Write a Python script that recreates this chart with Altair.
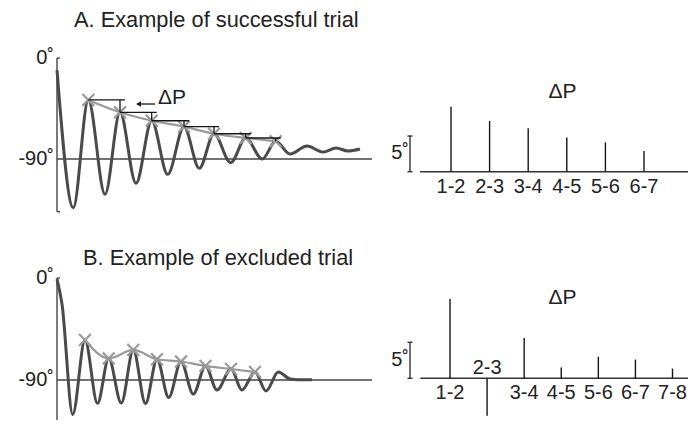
import altair as alt
import pandas as pd

# ---------------- data ----------------
# Panel A: successful trial, joint angle trace (time in s, angle in degrees)
a_time = [0.00, 0.163, 0.313, 0.48, 0.63, 0.79, 0.947, 1.107, 1.27, 1.423, 1.57,
          1.737, 1.887, 2.053, 2.187, 2.33, 2.50, 2.66, 2.79, 2.91, 3.03]
a_angle = [-10.7, -133.4, -37.4, -121.5, -48.4, -111.7, -55.9, -103.7, -61.2, -98.3, -67.5,
           -93.3, -71.3, -90.0, -74.2, -85.6, -78.4, -83.8, -80.2, -82.9, -81.1]
a_peak_time = [0.313, 0.63, 0.947, 1.27, 1.57, 1.887, 2.187]
a_peak_angle = [-37.4, -48.4, -55.9, -61.2, -67.5, -71.3, -74.2]
a_pairs = ["1-2", "2-3", "3-4", "4-5", "5-6", "6-7"]
a_dp = [9.1, 7.1, 6.1, 4.8, 4.1, 2.9]

# Panel B: excluded trial
b_time = [0.00, 0.05, 0.157, 0.28, 0.405, 0.517, 0.643, 0.763, 0.885, 1.00, 1.117,
          1.24, 1.363, 1.485, 1.60, 1.74, 1.85, 1.98, 2.09, 2.213, 2.33, 2.41, 2.55]
b_angle = [-1.0, -22.9, -120.4, -54.7, -110.6, -70.9, -110.3, -63.5, -110.7, -71.7, -105.4,
           -73.7, -102.4, -77.6, -98.8, -80.3, -98.8, -82.9, -99.7, -82.9, -89.1, -89.8, -89.8]
b_peak_time = [0.28, 0.517, 0.763, 1.00, 1.24, 1.485, 1.74, 1.98]
b_peak_angle = [-54.7, -70.9, -63.5, -71.7, -73.7, -77.6, -80.3, -82.9]
b_pairs = ["1-2", "2-3", "3-4", "4-5", "5-6", "6-7", "7-8"]
b_dp = [11.0, -5.2, 5.6, 1.5, 3.0, 2.6, 1.35]

tick_values = [0, -90]
tick_labels = ["0˚", "-90˚"]

# ---------------- style ----------------
FONT = "Liberation Sans"
TEXT = "#222222"
WAVE = "#4a4a4a"
GRAY = "#9a9a9a"
INK = "#151515"
AXIS = "#444444"
XPATH = "M-1,-1L1,1M-1,1L1,-1"


def df(**cols):
    return pd.DataFrame({k: (v if isinstance(v, list) else [v]) for k, v in cols.items()})


def label(text, x, y, size, align="left", baseline="alphabetic"):
    return alt.Chart(df(s=text)).mark_text(
        align=align, baseline=baseline, fontSize=size, color=TEXT, font=FONT
    ).encode(x=alt.value(x), y=alt.value(y), text="s:N")


def trace_panel(t, a, pt, pa, title, tx, ty, yrange, height, brackets, open_bottom):
    xs = alt.Scale(domain=[0, 3], range=[49, 349], nice=False, zero=False, padding=0)
    ys = alt.Scale(domain=[0, -90], range=yrange, nice=False, zero=False, padding=0)

    def X(f):
        return alt.X(f, type="quantitative", scale=xs, axis=None)

    def Y(f):
        return alt.Y(f, type="quantitative", scale=ys, axis=None)

    wave = pd.DataFrame({"t": t, "a": a})
    peaks = pd.DataFrame({"t": pt, "a": pa})
    ticks = pd.DataFrame({"t": [0, 0], "a": tick_values, "label": tick_labels})
    cap_vals = [0] if open_bottom else [0, -137]
    caps = pd.DataFrame({"t": [0] * len(cap_vals), "t2": [0.03] * len(cap_vals), "a": cap_vals})

    layers = [
        alt.Chart(df(t=0, a=0, a2=-137)).mark_rule(color=AXIS, strokeWidth=1.4, clip=True).encode(
            x=X("t"), y=Y("a"), y2="a2:Q"),
        alt.Chart(caps).mark_rule(color=AXIS, strokeWidth=1.4).encode(
            x=X("t"), x2="t2:Q", y=Y("a")),
        alt.Chart(df(t=0, t2=3.15, a=-90)).mark_rule(color=AXIS, strokeWidth=1.4).encode(
            x=X("t"), x2="t2:Q", y=Y("a")),
        alt.Chart(ticks).mark_text(align="right", baseline="middle", dx=-3,
                                   fontSize=20, color=TEXT, font=FONT).encode(
            x=X("t"), y=Y("a"), text="label:N"),
        alt.Chart(wave).mark_line(interpolate="monotone", color=WAVE, strokeWidth=3).encode(
            x=X("t"), y=Y("a")),
        alt.Chart(peaks).mark_line(interpolate="monotone", color=GRAY, strokeWidth=2.2).encode(
            x=X("t"), y=Y("a")),
        alt.Chart(peaks).mark_point(shape=XPATH, filled=False, size=140, strokeWidth=2.2,
                                    color=GRAY, opacity=1).encode(x=X("t"), y=Y("a")),
    ]
    if brackets:
        br = pd.DataFrame({"t0": pt[:-1], "t1": pt[1:], "a0": pa[:-1], "a1": pa[1:]})
        br["t1x"] = br["t1"] + 0.05
        layers += [
            alt.Chart(br).mark_rule(color=INK, strokeWidth=1.3).encode(
                x=X("t0"), x2="t1x:Q", y=Y("a0")),
            alt.Chart(br).mark_rule(color=INK, strokeWidth=1.3).encode(
                x=X("t1"), y=Y("a0"), y2="a1:Q"),
            alt.Chart(df(t=0.98, t2=0.82, a=-41)).mark_rule(color=INK, strokeWidth=1.3).encode(
                x=X("t"), x2="t2:Q", y=Y("a")),
            alt.Chart(df(t=0.815, a=-41)).mark_point(shape="triangle-left", filled=True, size=32,
                                                    color=INK, opacity=1).encode(
                x=X("t"), y=Y("a")),
            alt.Chart(df(t=1.01, a=-35.2, s="ΔP")).mark_text(
                align="left", baseline="middle", fontSize=21, color=TEXT, font=FONT).encode(
                x=X("t"), y=Y("a"), text="s:N"),
        ]
    layers.append(label(title, tx, ty, 21.8))
    return alt.layer(*layers).properties(width=372, height=height)


def stem_panel(pairs, dp, xrange, yrange, height, title_y):
    xs = alt.Scale(domain=[1, len(pairs)], range=xrange, nice=False, zero=False, padding=0)
    ys = alt.Scale(domain=[0, 5], range=yrange, nice=False, zero=False, padding=0)

    def X(f):
        return alt.X(f, type="quantitative", scale=xs, axis=None)

    def Y(f):
        return alt.Y(f, type="quantitative", scale=ys, axis=None)

    d = pd.DataFrame({"pair": pairs, "dp": dp, "i": list(range(1, len(pairs) + 1))})
    d["zero"] = 0
    bar_ends = pd.DataFrame({"v": [0, 5]})

    layers = [
        alt.Chart(df(i=0.2, i2=7.6, v=0)).mark_rule(color="#333333", strokeWidth=1.6, clip=True).encode(
            x=X("i"), x2="i2:Q", y=Y("v")),
        alt.Chart(d).mark_rule(color=INK, strokeWidth=1.4).encode(
            x=X("i"), y=Y("zero"), y2="dp:Q"),
        alt.Chart(d).transform_filter("datum.dp >= 0").mark_text(
            baseline="middle", dy=15, fontSize=20, color=TEXT, font=FONT).encode(
            x=X("i"), y=Y("zero"), text="pair:N"),
        alt.Chart(d).transform_filter("datum.dp < 0").mark_text(
            baseline="middle", dy=-10, fontSize=20, color=TEXT, font=FONT).encode(
            x=X("i"), y=Y("zero"), text="pair:N"),
        # 5-degree scale bar
        alt.Chart(df(v=0, v2=5)).mark_rule(color="#333333", strokeWidth=1.4).encode(
            x=alt.value(30), y=Y("v"), y2="v2:Q"),
        alt.Chart(bar_ends).mark_rule(color="#333333", strokeWidth=1.4).encode(
            x=alt.value(27.5), x2=alt.value(32.5), y=Y("v")),
        alt.Chart(df(v=2.6, s="5˚")).mark_text(
            align="right", baseline="middle", fontSize=20, color=TEXT, font=FONT).encode(
            x=alt.value(29), y=Y("v"), text="s:N"),
        label("ΔP", 182.5, title_y, 21, align="center", baseline="middle"),
    ]
    return alt.layer(*layers).properties(width=308, height=height)


a_left = trace_panel(a_time, a_angle, a_peak_time, a_peak_angle,
                     "A. Example of successful trial", 66, 19, [50, 151], 228, True, False)
a_right = stem_panel(a_pairs, a_dp, [71, 264], [163.7, 128], 228, 83.5)
b_left = trace_panel(b_time, b_angle, b_peak_time, b_peak_angle,
                     "B. Example of excluded trial", 75, 29, [42, 144], 184, False, True)
b_right = stem_panel(b_pairs, b_dp, [70, 292.5], [142.3, 106.3], 184, 61.5)

chart = alt.concat(a_left, a_right, b_left, b_right, columns=2, spacing=0,
                   bounds="flush").properties(
    padding=0
).configure(font=FONT).configure_view(stroke=None, fill="white")

chart.save("out.html", embed_options={"renderer": "svg", "actions": False})
